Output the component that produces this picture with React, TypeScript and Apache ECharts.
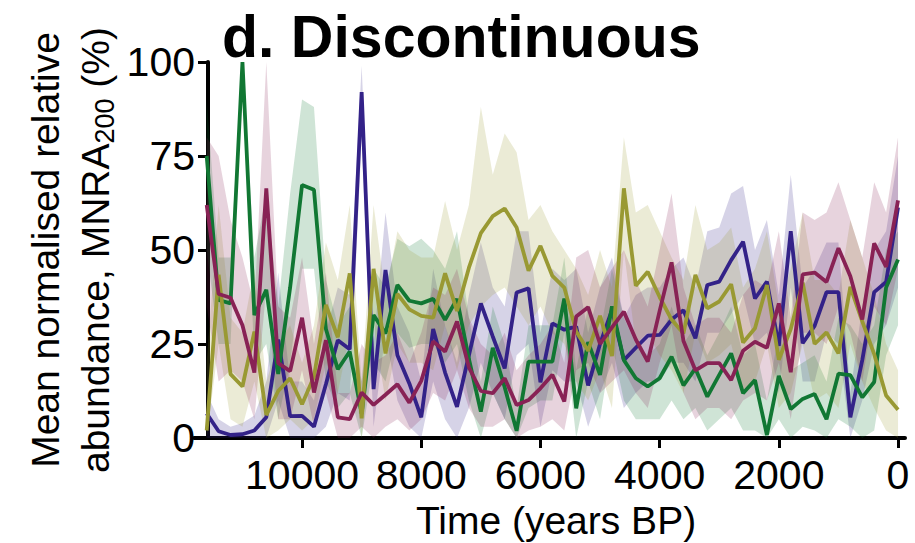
import React, { useEffect, useRef } from "react";
import * as echarts from "echarts";

// Time axis (years BP), one point every 200 years
const years = [
  0, 200, 400, 600, 800, 1000, 1200, 1400, 1600, 1800,
  2000, 2200, 2400, 2600, 2800, 3000, 3200, 3400, 3600, 3800,
  4000, 4200, 4400, 4600, 4800, 5000, 5200, 5400, 5600, 5800,
  6000, 6200, 6400, 6600, 6800, 7000, 7200, 7400, 7600, 7800,
  8000, 8200, 8400, 8600, 8800, 9000, 9200, 9400, 9600, 9800,
  10000, 10200, 10400, 10600, 10800, 11000, 11200, 11400, 11600,
];

const xTicks = [0, 2000, 4000, 6000, 8000, 10000];

// Indigo series
const blue = [
  61.3, 41.5, 38.8, 20.7, 5.5, 38.8, 38.8, 29.8, 25.2, 55,
  24.5, 41.6, 37.1, 52.2, 47.3, 41.6, 40.7, 26.5, 34, 31.5,
  27.4, 27.2, 24, 20.7, 34, 25, 14, 29.6, 28.8, 30.5,
  14.8, 39.8, 38.7, 18.5, 27, 35.8, 22, 8.3, 17.4, 29,
  5.5, 14.5, 22, 44.7, 13, 92, 23.6, 26, 14.3, 3,
  5.9, 5.8, 26.2, 5.5, 2, 1, 0.8, 1.8, 6.5,
];
const blueLo = [
  40, 30, 25, 10, 0, 25, 28, 15, 15, 40,
  12, 28, 25, 38, 33, 28, 28, 15, 20, 20,
  15, 15, 12, 8, 20, 12, 3, 15, 15, 18,
  3, 25, 22, 5, 12, 20, 8, 0, 5, 15,
  0, 3, 10, 28, 3, 80, 10, 12, 3, 0,
  0, 0, 10, 0, 0, 0, 0, 0, 0,
];
const blueHi = [
  75, 55, 50, 35, 12, 52, 52, 45, 40, 70,
  38, 58, 50, 67, 65, 56, 55, 40, 48, 45,
  40, 40, 38, 32, 48, 40, 28, 45, 42, 45,
  28, 55, 55, 35, 40, 52, 38, 20, 30, 45,
  15, 28, 35, 60, 25, 99, 38, 40, 28, 10,
  15, 15, 44, 15, 6, 4, 3, 5, 12,
];

// Green series
const green = [
  47.5, 40, 14.9, 10.8, 16.7, 17.1, 5, 11.7, 10.4, 7.7,
  16.5, 0.8, 15.4, 11.9, 22.5, 16.8, 11, 18.5, 14, 21.6,
  15.9, 13.7, 15.9, 20.7, 35, 16.8, 25.5, 7.9, 37.1, 20.3,
  20.3, 20.3, 1.9, 13.5, 24, 7, 21, 37, 31.4, 37,
  35.8, 36.5, 40.7, 27.8, 32.7, 6.5, 23, 18.3, 29, 66,
  67.3, 40, 17, 39.4, 32.7, 100, 35.8, 36.7, 75,
];
const greenLo = [
  30, 22, 2, 0, 3, 5, 0, 2, 3, 0,
  5, 0, 2, 2, 8, 5, 2, 8, 5, 10,
  5, 5, 5, 10, 25, 5, 15, 0, 28, 10,
  10, 8, 0, 5, 12, 0, 10, 25, 20, 25,
  25, 24, 28, 15, 20, 0, 12, 8, 15, 45,
  45, 20, 5, 25, 20, 99, 25, 25, 50,
];
const greenHi = [
  55, 50, 30, 25, 30, 32, 15, 22, 20, 18,
  28, 10, 25, 22, 35, 28, 22, 30, 25, 35,
  25, 22, 25, 32, 45, 28, 35, 18, 48, 30,
  30, 30, 8, 25, 35, 15, 32, 55, 45, 50,
  53, 51, 53, 40, 45, 15, 35, 30, 42, 88,
  90, 65, 35, 65, 48, 100, 48, 48, 90,
];

// Olive series
const olive = [
  7.5, 11.3, 22.3, 31, 40.2, 22.5, 28.1, 25, 41.3, 29,
  20.8, 40.7, 29.2, 25.4, 40.9, 36.3, 34.5, 43.4, 27.8, 31.5,
  37.5, 44.2, 40.5, 66.4, 21.8, 32.5, 23.2, 28.3, 40, 43.1,
  51.1, 44.5, 56, 61, 59, 54.5, 45.3, 33.8, 43.8, 32,
  32.5, 34.2, 38.3, 22.5, 45, 5.2, 43.8, 26.8, 35.4, 16.3,
  9, 15.9, 12.5, 6.1, 28.3, 13.7, 17, 43.4, 2,
];
const oliveLo = [
  0, 2, 8, 15, 25, 8, 12, 10, 25, 12,
  8, 25, 15, 12, 25, 22, 20, 28, 12, 18,
  22, 28, 25, 50, 8, 18, 10, 15, 25, 28,
  35, 30, 35, 40, 38, 35, 30, 18, 30, 18,
  20, 20, 25, 10, 30, 0, 28, 12, 20, 5,
  2, 5, 2, 0, 15, 3, 5, 25, 0,
];
const oliveHi = [
  18, 25, 38, 48, 58, 38, 42, 42, 60, 45,
  35, 55, 45, 40, 56, 52, 50, 62, 42, 48,
  55, 62, 60, 80, 40, 50, 38, 45, 50, 55,
  62, 58, 76, 81, 70, 88, 62, 50, 63, 48,
  48, 50, 55, 38, 62, 15, 62, 42, 52, 30,
  20, 30, 25, 15, 45, 28, 32, 62, 20,
];

// Wine series
const maroon = [
  63.2, 45.5, 51.8, 31.5, 43, 50.5, 41.5, 44, 43.5, 17.5,
  35.8, 24, 25.6, 23.2, 15.4, 19.9, 19.9, 18, 25.8, 46.7,
  33.8, 20.3, 26.2, 33.6, 29.4, 25, 34.8, 32.3, 9.7, 16.8,
  13.2, 10.1, 8.8, 15.9, 11.9, 12.5, 18.8, 31, 23, 25.7,
  15.2, 9.4, 14.3, 11.5, 8.8, 12.1, 5, 5.5, 26, 12.1,
  32, 17.8, 19.9, 66.4, 17.4, 30, 37.3, 38.3, 62,
];
const maroonLo = [
  45, 30, 35, 15, 28, 35, 25, 28, 28, 5,
  20, 10, 12, 10, 5, 8, 8, 5, 12, 30,
  20, 8, 12, 18, 15, 12, 20, 18, 2, 5,
  3, 2, 0, 5, 3, 3, 8, 18, 10, 12,
  5, 2, 5, 3, 0, 3, 0, 0, 12, 3,
  18, 5, 5, 40, 5, 15, 18, 15, 35,
];
const maroonHi = [
  80, 60, 68, 48, 58, 68, 60, 58, 60, 32,
  55, 40, 42, 38, 28, 32, 32, 30, 40, 65,
  50, 35, 42, 50, 45, 40, 50, 48, 20, 30,
  25, 22, 18, 28, 22, 25, 32, 45, 38, 40,
  28, 20, 28, 22, 20, 25, 12, 12, 44, 25,
  48, 32, 35, 100, 35, 48, 58, 75, 80,
];

const SERIES = [
  { name: "indigo", color: "#332288", band: "rgba(51,34,136,0.2)", v: blue, lo: blueLo, hi: blueHi },
  { name: "green", color: "#117733", band: "rgba(17,119,51,0.2)", v: green, lo: greenLo, hi: greenHi },
  { name: "olive", color: "#999933", band: "rgba(153,153,51,0.2)", v: olive, lo: oliveLo, hi: oliveHi },
  { name: "wine", color: "#882255", band: "rgba(136,34,85,0.2)", v: maroon, lo: maroonLo, hi: maroonHi },
];

const FONT = '"Liberation Sans", Arial, Helvetica, sans-serif';

export default function App() {
  const ref = useRef<HTMLDivElement>(null);
  useEffect(() => {
    if (!ref.current) return;
    const chart = echarts.init(ref.current, null, { renderer: "svg" });
    const series: any[] = [];
    SERIES.forEach((s) => {
      series.push({
        type: "custom",
        name: s.name + "-band",
        data: [[years[0], s.v[0]]],
        encode: { x: 0, y: 1 },
        silent: true,
        z: 1,
        renderItem: (params: any, api: any) => {
          const pts: number[][] = [];
          for (let i = 0; i < years.length; i++) pts.push(api.coord([years[i], s.hi[i]]));
          for (let i = years.length - 1; i >= 0; i--) pts.push(api.coord([years[i], s.lo[i]]));
          return {
            type: "polygon",
            shape: { points: pts },
            style: { fill: s.band, stroke: "none" },
          };
        },
      });
    });
    SERIES.forEach((s) => {
      series.push({
        type: "line",
        name: s.name,
        data: years.map((y, i) => [y, s.v[i]]),
        symbol: "none",
        lineStyle: { color: s.color, width: 3.8 },
        z: 3,
      });
    });

    chart.setOption({
      animation: false,
      grid: { left: 194, right: 10, top: 62, bottom: 105, containLabel: false, outerBoundsMode: "none" },
      xAxis: {
        type: "value",
        inverse: true,
        min: -117,
        max: 11813,
        axisLine: { show: true, onZero: false, lineStyle: { color: "#000", width: 4 } },
        axisTick: {
          show: true,
          customValues: xTicks,
          length: 10,
          lineStyle: { color: "#000", width: 3 },
        },
        axisLabel: {
          customValues: xTicks,
          formatter: (v: number) => String(v),
          fontSize: 41,
          fontFamily: FONT,
          color: "#000",
          margin: 16,
        },
        splitLine: { show: false },
      },
      yAxis: {
        type: "value",
        min: 0,
        max: 100,
        interval: 25,
        offset: -14,
        axisLine: { show: true, onZero: false, lineStyle: { color: "#000", width: 4 } },
        axisTick: { show: true, length: 10, lineStyle: { color: "#000", width: 3 } },
        axisLabel: { fontSize: 41, fontFamily: FONT, color: "#000", margin: 13 },
        splitLine: { show: false },
      },
      graphic: [
        {
          type: "text",
          x: 222,
          y: 37,
          style: {
            text: "d. Discontinuous",
            font: "bold 59px " + FONT,
            fill: "#000",
            align: "left",
            verticalAlign: "middle",
          },
        },
        {
          type: "text",
          x: 45,
          y: 250,
          rotation: Math.PI / 2,
          style: {
            text: "Mean normalised relative",
            font: "39px " + FONT,
            fill: "#000",
            align: "center",
            verticalAlign: "middle",
          },
        },
        {
          type: "text",
          x: 95,
          y: 250,
          rotation: Math.PI / 2,
          style: {
            text: "{n|abundance, MNRA}{s|200}{n| (%)}",
            fill: "#000",
            align: "center",
            verticalAlign: "middle",
            rich: {
              n: { fontSize: 39, fontFamily: FONT, lineHeight: 46 },
              s: { fontSize: 27, fontFamily: FONT, lineHeight: 46, verticalAlign: "bottom" },
            },
          },
        },
        {
          type: "text",
          x: 556,
          y: 520,
          style: {
            text: "Time (years BP)",
            font: "39px " + FONT,
            fill: "#000",
            align: "center",
            verticalAlign: "middle",
          },
        },
      ],
      series,
    });
    return () => chart.dispose();
  }, []);
  return (
    <div
      ref={ref}
      style={{ position: "absolute", left: 0, top: 0, width: 915, height: 543, background: "#fff" }}
    />
  );
}
